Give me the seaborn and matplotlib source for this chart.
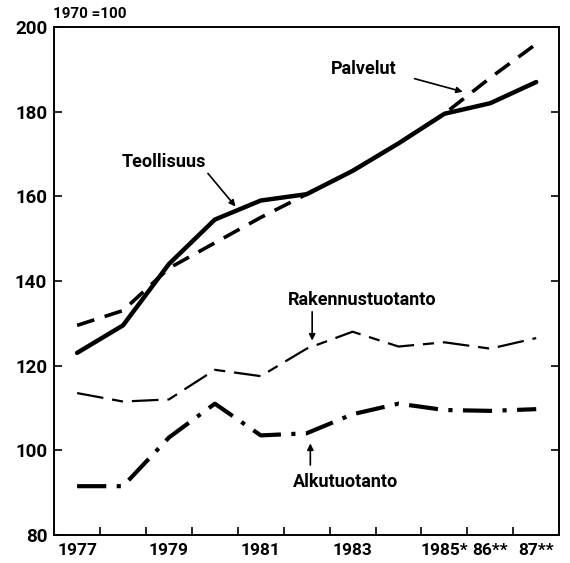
import numpy as np
import pandas as pd
import matplotlib
matplotlib.use("Agg")
import matplotlib.pyplot as plt
import seaborn as sns

# data (1970 = 100)
years = [1977, 1978, 1979, 1980, 1981, 1982, 1983, 1984, 1985, 1986, 1987]
tick_years = [1977, 1979, 1981, 1983, 1985, 1986, 1987]
tick_labels = ["1977", "1979", "1981", "1983", "1985*", "86**", "87**"]

teollisuus = [123, 129.5, 144, 154.5, 159, 160.5, 166, 172.5, 179.5, 182, 187]
palvelut = [129.5, 133, 143, 149, 155, 160.5, 166, 172.5, 179.5, 188, 196]
rakennus = [113.5, 111.5, 112, 119, 117.5, 124, 128, 124.5, 125.5, 124, 126.5]
alkutuotanto = [91.5, 91.5, 103, 111, 103.5, 104, 108.5, 111, 109.5, 109.3, 109.7]

sns.set_style("white")
plt.rcParams["font.family"] = ["Liberation Sans Narrow", "Roboto", "DejaVu Sans"]
plt.rcParams["font.weight"] = "bold"
for k in ["text.color", "xtick.color", "ytick.color", "axes.labelcolor"]:
    plt.rcParams[k] = "black"

fig = plt.figure(figsize=(5.70, 5.63), dpi=100)
ax = fig.add_axes([0.095, 0.05, 0.886, 0.902])

sns.lineplot(x=years, y=teollisuus, ax=ax, color="black", lw=3.2,
             solid_capstyle="round")
sns.lineplot(x=years, y=palvelut, ax=ax, color="black", lw=2.6,
             dashes=False).lines[-1].set_dashes([5, 3])
sns.lineplot(x=years, y=rakennus, ax=ax, color="black", lw=1.6,
             dashes=False).lines[-1].set_dashes([12, 4, 5, 4])
sns.lineplot(x=years, y=alkutuotanto, ax=ax, color="black", lw=3.0,
             dashes=False).lines[-1].set_dashes([7, 2.5, 1, 2.5])

ax.set_xlim(1976.5, 1987.5)
ax.set_ylim(80, 200)

# ticks at year boundaries, labels centred under the years
ax.set_xticks(np.arange(1977.5, 1987.5, 1))
ax.set_xticklabels([])
ax.set_xticks(tick_years, minor=True)
ax.set_xticklabels(tick_labels, minor=True)
ax.tick_params(axis="x", which="major", direction="in", length=6, width=1.2,
               bottom=True)
ax.tick_params(axis="x", which="minor", length=0, pad=6, labelsize=12.5)

ax.set_yticks(range(80, 201, 20))
ax.tick_params(axis="y", direction="in", length=6, width=1.2, left=True,
               right=True, labelsize=13.5, pad=5)

for s in ax.spines.values():
    s.set_visible(True)
    s.set_color("black")
    s.set_linewidth(1.4)

fig.text(0.093, 0.976, "1970 =100", fontsize=11, fontweight="bold",
         ha="left", va="center")

head = dict(arrowstyle="-|>", color="black", lw=1.2, mutation_scale=9,
            shrinkA=0, shrinkB=0)
lab = dict(fontsize=13, fontweight="bold", ha="center", va="center")

ax.text(1983.25, 190, "Palvelut", **lab)
ax.annotate("", xy=(1985.4, 184.7), xytext=(1984.35, 187.8), arrowprops=head)

ax.text(1978.9, 168, "Teollisuus", **lab)
ax.annotate("", xy=(1980.45, 157.6), xytext=(1979.85, 165.4), arrowprops=head)

ax.text(1983.2, 135.5, "Rakennustuotanto", **lab)
ax.annotate("", xy=(1982.12, 125.9), xytext=(1982.12, 132.7), arrowprops=head)

ax.text(1982.85, 92.5, "Alkutuotanto", **lab)
ax.annotate("", xy=(1982.08, 101.6), xytext=(1982.08, 96.5), arrowprops=head)

fig.savefig("out.png", dpi=100)
